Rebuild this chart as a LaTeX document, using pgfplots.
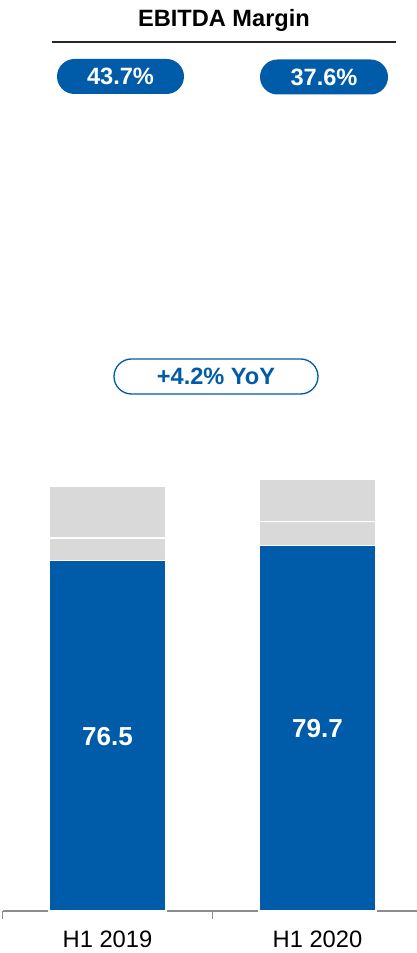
\documentclass[border=0pt]{standalone}
\usepackage{fontspec}
\setmainfont{Liberation Sans}
\usepackage{pgfplots}
\pgfplotsset{compat=1.18}
\usetikzlibrary{shapes.misc}

\definecolor{barblue}{RGB}{0,92,168}
\definecolor{bargray}{RGB}{217,217,217}
\definecolor{axisgray}{RGB}{140,140,140}

\begin{document}
\begin{tikzpicture}
\begin{axis}[
    name=ax,
    scale only axis,
    width=310.875pt, height=683.25pt,
    xmin=-0.5, xmax=1.4738,
    ymin=0, ymax=198.7,
    enlargelimits=false,
    ybar stacked,
    bar width=87.75pt,
    axis x line*=bottom,
    axis y line=none,
    x axis line style={-, axisgray, line width=0.8pt},
    xtick={0,1},
    xticklabels={H1 2019, H1 2020},
    major tick length=0pt,
    xtick align=outside,
    extra x ticks={-0.5,0.5},
    extra x tick labels={},
    extra x tick style={major tick length=6pt, tick style={axisgray, line width=0.8pt}},
    xticklabel style={font=\fontsize{17.8}{20}\selectfont, anchor=base, yshift=-27.4pt},
    clip=false,
]
\addplot[fill=barblue, draw=white, line width=1.1pt] coordinates {(0,76.5) (1,79.7)};
\addplot[fill=bargray, draw=white, line width=1.1pt] coordinates {(0,4.9) (1,5.2)};
\addplot[fill=bargray, draw=white, line width=1.1pt] coordinates {(0,11.2) (1,9.3)};
\end{axis}
% annotations, in pixel units of the frame (origin top left, y down)
\begin{scope}[shift={(ax.north west)}, xshift=-1.875pt, x=0.75pt, y=-0.75pt]
\node[text=white, font=\bfseries\fontsize{19.5}{22}\selectfont] at (107.5,736.5) {76.5};
\node[text=white, font=\bfseries\fontsize{19.5}{22}\selectfont] at (317.5,729) {79.7};
\node[font=\bfseries\fontsize{17.7}{20}\selectfont] at (224,20) {EBITDA Margin};
\draw[line width=1.1pt, black!85] (52,42) -- (396,42);
\node[rounded rectangle, fill=barblue, text=white, minimum width=95.25pt, minimum height=26.25pt, inner sep=0pt,
      font=\bfseries\fontsize{17.7}{20}\selectfont] at (120.5,76.5) {43.7\%};
\node[rounded rectangle, fill=barblue, text=white, minimum width=96pt, minimum height=26.25pt, inner sep=0pt,
      font=\bfseries\fontsize{17.7}{20}\selectfont] at (324,77) {37.6\%};
\node[rounded rectangle, draw=barblue, line width=1pt, fill=white, text=barblue, minimum width=153pt, minimum height=26.25pt, inner sep=0pt,
      font=\bfseries\fontsize{17.7}{20}\selectfont] at (216,376.5) {+4.2\% YoY};
\end{scope}
\pgfresetboundingbox
\begin{scope}[shift={(ax.north west)}, xshift=-1.875pt, x=0.75pt, y=-0.75pt]
\path[use as bounding box] (0,0) rectangle (417,953);
\end{scope}
\end{tikzpicture}
\end{document}
